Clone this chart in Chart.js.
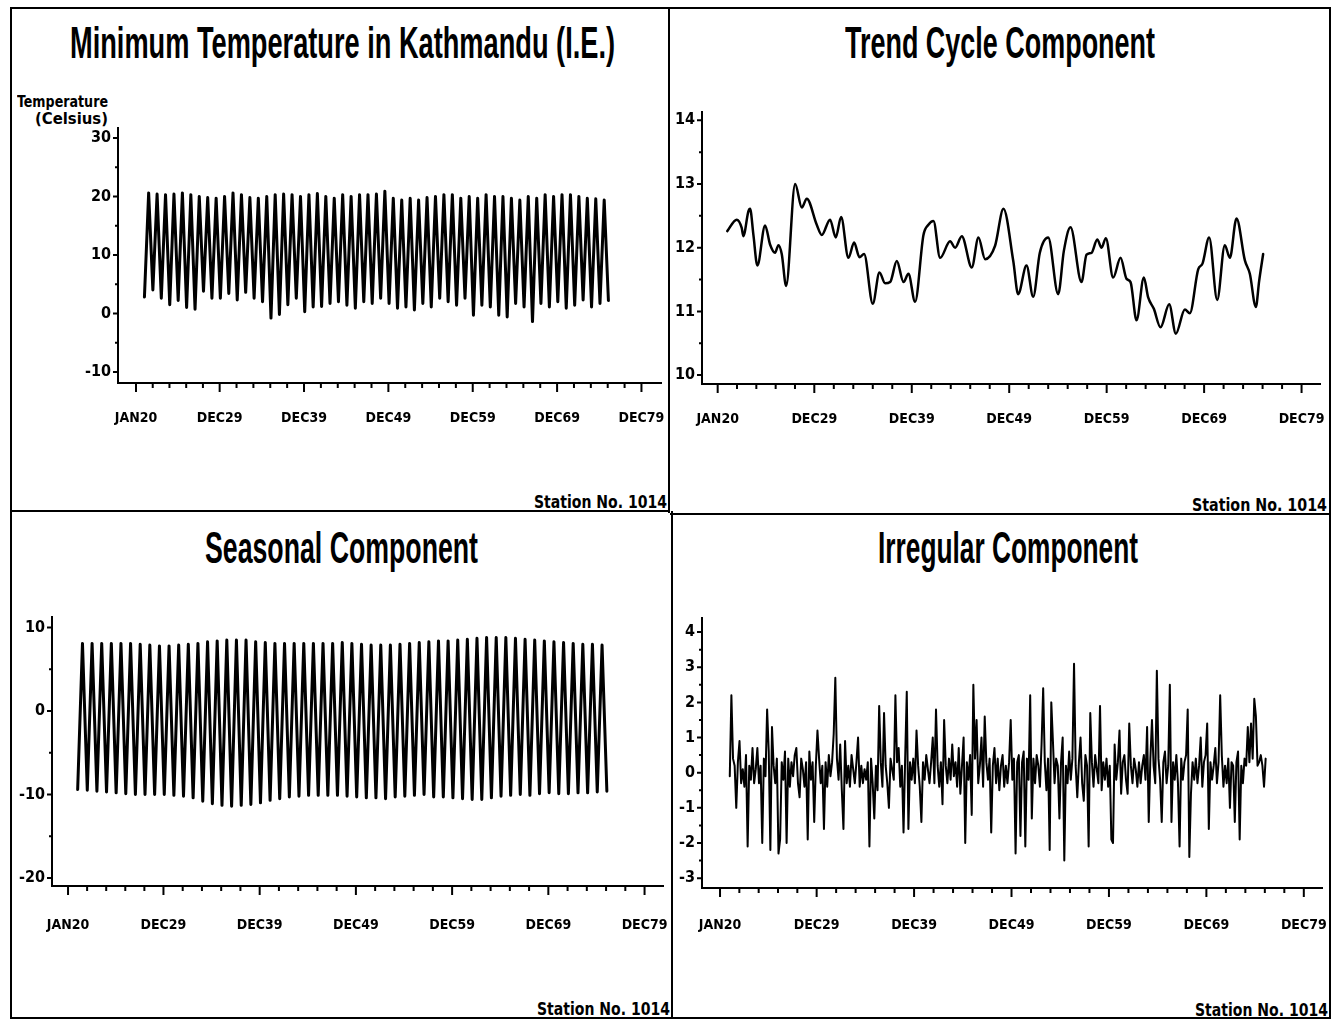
<!DOCTYPE html>
<html><head><meta charset="utf-8">
<script src="https://cdn.jsdelivr.net/npm/chart.js@4.4.0/dist/chart.umd.min.js"></script>
<style>
html,body{margin:0;padding:0;background:#fff;}
#page{position:relative;width:1339px;height:1024px;overflow:hidden;background:#fff;}
.ln{position:absolute;background:#000;}
.txt{position:absolute;white-space:nowrap;color:#000;transform-origin:0 0;}
canvas{position:absolute;}
</style></head><body><div id="page"></div>
<script>
// ---------- categories / tick labels ----------
const xTickMonths = [0, 119, 239, 359, 479, 599, 719];           // months after Jan 1920
const xTickLabels = ['JAN20', 'DEC29', 'DEC39', 'DEC49', 'DEC59', 'DEC69', 'DEC79'];
const tempTicks = [-10, 0, 10, 20, 30];
const trendTicks = [10, 11, 12, 13, 14];
const seasTicks = [-20, -10, 0, 10];
const irrTicks = [-3, -2, -1, 0, 1, 2, 3, 4];

// ---------- series values ----------
// Minimum temperature: January lows 1921..1976 and July highs 1921..1975
const tempLows = [2.8, 4.0, 2.6, 1.5, 2.2, 1.0, 0.7, 3.8, 2.6, 2.6,
  3.4, 2.3, 3.6, 2.6, 2.0, -0.8, -0.2, 1.5, 2.6, 0.3,
  1.1, 1.2, 1.7, 2.0, 1.4, 0.9, 2.0, 1.7, 2.6, 1.7,
  0.9, 1.1, 0.6, 1.7, 1.1, 2.6, 2.0, 1.4, 2.6, -0.3,
  1.4, 1.1, -0.3, -0.6, 1.7, 1.1, -1.4, 1.7, 1.1, 2.0,
  0.9, 1.4, 2.3, 1.1, 1.7, 2.2];
const tempHighs = [20.6, 20.4, 20.3, 20.4, 20.6, 20.3, 20.0, 19.8, 19.7, 20.0,
  20.6, 20.3, 19.8, 19.7, 20.0, 20.3, 20.4, 20.3, 20.0, 20.3,
  20.5, 20.0, 19.7, 20.3, 20.0, 20.3, 20.3, 20.4, 20.9, 19.7,
  19.4, 19.7, 19.4, 19.8, 20.0, 20.3, 20.3, 19.7, 20.0, 19.7,
  20.3, 20.0, 20.0, 19.7, 19.4, 20.0, 19.7, 20.3, 20.0, 20.3,
  20.3, 20.0, 19.7, 19.6, 19.4];

// Seasonal component: January lows 1921..1976 and July highs 1921..1975
const seasLows = [-9.4, -9.5, -9.6, -9.7, -9.8, -9.9, -10.0, -10.0, -10.0, -10.0,
  -10.1, -10.2, -10.4, -10.8, -11.1, -11.3, -11.4, -11.3, -11.2, -11.0,
  -10.7, -10.5, -10.3, -10.2, -10.1, -10.1, -10.1, -10.1, -10.2, -10.3,
  -10.4, -10.4, -10.5, -10.3, -10.2, -10.1, -10.0, -10.3, -10.3, -10.4,
  -10.5, -10.6, -10.6, -10.4, -10.2, -10.1, -10.0, -10.1, -9.9, -9.8,
  -9.9, -9.9, -9.8, -9.8, -9.7, -9.6];
const seasHighs = [8.1, 8.1, 8.1, 8.1, 8.1, 8.1, 8.0, 7.9, 7.8, 7.8,
  7.9, 8.0, 8.1, 8.3, 8.4, 8.5, 8.5, 8.5, 8.3, 8.2,
  8.1, 8.1, 8.1, 8.1, 8.1, 8.1, 8.1, 8.2, 8.1, 8.0,
  7.9, 7.9, 7.9, 8.0, 8.1, 8.2, 8.3, 8.4, 8.4, 8.5,
  8.6, 8.7, 8.8, 8.8, 8.8, 8.7, 8.6, 8.5, 8.4, 8.3,
  8.2, 8.1, 8.0, 8.0, 7.9];

// Trend cycle: turning points (month index, value)
const trendMonths = [11.8, 23.4, 29.6, 31.6, 37.8, 39.9, 44, 48.9, 58.4, 64.5, 70.7, 74.8, 78.9, 84.3, 95.4, 103.6, 109.7, 122, 128.2, 138.4,
  145.4, 152, 161, 168, 174.6, 180.3, 191, 199.2, 206.2, 212.4, 220.6, 228.8, 234.9, 243.1, 253.4, 259.5, 265.7, 273.9, 286.2, 292.4,
  300.6, 312.9, 321.1, 329.3, 341.6, 351.9, 364, 370, 380.3, 388.5, 396.7, 407, 419.3, 426.3, 434.5, 448, 454.2, 460.4, 467.4, 472.7,
  478, 487, 496.1, 503.5, 508.4, 515.8, 524.8, 530.1, 537.1, 545.3, 556, 564.2, 575.3, 581.4, 591.7, 597, 605.2, 615.1, 624.5, 630.7,
  638.9, 649.2, 655.3, 662.7, 666.8, 671.7];
const trendValues = [12.26, 12.44, 12.31, 12.18, 12.57, 12.61, 12.2, 11.72, 12.35, 12.05, 11.92, 12.04, 11.9, 11.4, 13.0, 12.63, 12.77, 12.36, 12.2, 12.44,
  12.16, 12.48, 11.84, 12.08, 11.85, 11.9, 11.12, 11.61, 11.44, 11.46, 11.79, 11.46, 11.59, 11.15, 12.2, 12.36, 12.42, 11.84, 12.1, 12.0,
  12.18, 11.69, 12.16, 11.82, 12.03, 12.61, 11.79, 11.27, 11.72, 11.23, 11.92, 12.16, 11.27, 11.95, 12.32, 11.46, 11.89, 11.92, 12.13, 12.0,
  12.15, 11.53, 11.84, 11.51, 11.46, 10.86, 11.53, 11.22, 11.04, 10.75, 11.11, 10.65, 11.03, 10.97, 11.66, 11.75, 12.16, 11.18, 12.04, 11.84,
  12.46, 11.8, 11.59, 11.07, 11.48, 11.9];

// Irregular component: every second month from Jan 1921 (one row = one year)
const irregularValues = [
  -0.1, 2.2, 0.4, 0.2, -1.0, 0.3,
  0.9, -0.3, 0.1, -0.4, 0.5, -2.1,
  0.2, -0.2, 0.7, -0.3, 0.1, 0.7,
  -0.3, 0.2, -2.0, 0.4, -0.1, 1.8,
  0.6, -2.2, 1.3, 0.2, -0.3, 0.4,
  -2.3, -1.9, 0.3, -0.2, 0.6, -2.0,
  0.4, -0.4, 0.3, -0.1, 0.5, 0.7,
  -0.3, -0.7, 0.4, 0.1, -0.4, 0.3,
  -1.9, 0.6, -0.2, 0.3, -1.4, 0.2,
  1.2, 0.4, -0.3, 0.2, -1.6, 0.3,
  -0.4, 0.5, -0.1, 0.3, 1.1, 2.7,
  0.4, -0.2, 0.8, -0.5, -1.6, 0.9,
  -0.3, 0.2, -0.4, 0.5, 0.1, -0.3,
  0.3, 1.0, -0.4, 0.2, -0.3, 0.1,
  -0.2, 0.3, -2.1, 0.4, -0.3, -1.3,
  0.2, -0.5, 1.9, 0.3, -0.4, 1.7,
  0.2, -0.3, -1.0, 0.4, 0.1, -0.2,
  2.2, 0.3, 0.7, -0.4, 0.2, -1.7,
  0.4, 2.3, -1.6, 0.3, -0.2, 0.4,
  -0.3, 1.2, 0.2, -0.4, -1.4, 0.3,
  -0.2, 0.5, 0.1, -0.3, 0.3, 1.0,
  -0.3, 1.8, 0.2, -0.4, 0.3, -0.9,
  1.5, 0.2, -0.3, 0.4, -0.2, 0.8,
  -0.1, 0.3, -0.4, 0.7, -0.6, 0.2,
  1.0, -2.0, 0.3, -0.2, 0.5, -1.2,
  2.5, 0.4, 1.5, -0.3, 0.2, 1.0,
  -0.4, 1.6, 0.3, -0.2, 0.4, -1.7,
  0.2, 0.7, -0.3, 0.4, -0.5, 0.2,
  0.5, -0.4, 0.2, -0.3, 0.3, 1.5,
  -0.2, 0.4, -2.3, 0.3, 0.5, -1.8,
  0.3, 0.6, -2.1, 0.4, -0.2, 2.2,
  -1.3, 0.4, -0.3, 0.5, 0.2, -0.4,
  0.8, 2.4, 0.3, -0.5, 0.4, -2.2,
  2.0, 0.9, -0.3, 0.4, 0.2, -1.3,
  0.3, 1.0, -2.5, 0.2, -0.3, 0.6,
  -0.2, 0.4, 3.1, 0.2, -0.7, 0.3,
  1.0, -0.3, -0.8, 0.5, 0.2, -2.1,
  1.7, 0.3, -0.4, 0.5, 0.1, -0.3,
  1.9, -0.5, 0.3, -0.2, 0.4, -0.4,
  0.2, -1.9, -2.0, 0.8, -0.2, 0.3,
  1.2, -0.6, 0.3, 0.5, -0.2, -0.6,
  1.4, 0.2, -0.3, 0.4, 0.1, -0.4,
  0.3, -0.3, 0.2, 0.5, -0.2, 1.3,
  -1.4, 0.4, 1.5, 0.2, -0.3, 2.9,
  0.4, -0.2, -1.4, 0.3, 0.6, -0.3,
  0.2, 2.5, -1.4, 0.3, -0.2, 0.5,
  -0.3, -2.1, 0.4, -0.2, 0.3, 0.5,
  1.8, -2.4, -0.6, 0.3, -0.2, 0.4,
  -0.3, 0.2, 1.0, -0.4, 0.3, 0.5,
  1.4, -1.6, 0.3, -0.2, 0.2, 0.7,
  -0.3, 0.3, 2.2, 0.5, -0.4, 0.2,
  -0.3, 0.4, -1.0, 0.3, 0.2, -1.4,
  0.3, 0.6, -1.9, 0.2, -0.3, 0.4,
  0.2, 1.3, 0.3, 1.4, 0.4, 2.1,
  1.6, 0.2, 0.3, 0.5, 0.2, -0.4,
  0.4];

// ---------- build point lists ----------
function cycleSeries(lows, highs) {
  const pts = [];
  for (let i = 0; i < lows.length; i++) {
    pts.push({ x: 12 + 12 * i, y: lows[i] });          // January
    if (i < highs.length) pts.push({ x: 18 + 12 * i, y: highs[i] }); // July
  }
  return pts;
}
const tempPoints = cycleSeries(tempLows, tempHighs);
const seasPoints = cycleSeries(seasLows, seasHighs);
const trendPoints = trendMonths.map((m, i) => ({ x: m, y: trendValues[i] }));
const irrPoints = irregularValues.map((v, k) => ({ x: 12 + 2 * k, y: v }));

// ---------- page furniture ----------
const page = document.getElementById('page');
const FONT = "'Liberation Sans Narrow','DejaVu Sans Condensed','Liberation Sans',sans-serif";
const TITLE_FONT = "'Liberation Sans',Arial,sans-serif";

function ln(x, y, w, h) {
  const d = document.createElement('div'); d.className = 'ln';
  d.style.left = x + 'px'; d.style.top = y + 'px'; d.style.width = w + 'px'; d.style.height = h + 'px';
  page.appendChild(d);
}
ln(11, 7, 1320, 2);      // top
ln(11, 1017, 1320, 2);   // bottom
ln(10, 7, 2, 1012);      // left
ln(1329, 7, 2, 1012);    // right
ln(668, 7, 2, 506);      // divider upper
ln(671, 511, 2, 507);    // divider lower
ln(11, 510, 659, 2);     // horizontal left
ln(670, 513, 660, 2);    // horizontal right

function addText(str, o) {
  const d = document.createElement('div'); d.className = 'txt';
  d.style.font = (o.weight || 'bold') + ' ' + o.size + 'px ' + (o.family || FONT);
  d.style.lineHeight = 'normal';
  d.appendChild(document.createTextNode(str));
  const m = document.createElement('span');
  m.style.display = 'inline-block'; m.style.width = '0px'; m.style.height = '0px'; m.style.verticalAlign = 'baseline';
  d.appendChild(m);
  page.appendChild(d);
  const w = d.getBoundingClientRect().width;
  const sx = o.w ? o.w / w : 1;
  const tw = w * sx;
  const left = o.align === 'center' ? o.x - tw / 2 : (o.align === 'right' ? o.x - tw : o.x);
  d.style.left = left + 'px';
  d.style.top = (o.base - m.offsetTop) + 'px';
  d.style.transform = 'scaleX(' + sx + ')';
}

addText('Minimum Temperature in Kathmandu (I.E.)', { size: 45, family: TITLE_FONT, x: 342, align: 'center', base: 58, w: 545 });
addText('Trend Cycle Component', { size: 45, family: TITLE_FONT, x: 1000, align: 'center', base: 58, w: 310 });
addText('Seasonal Component', { size: 45, family: TITLE_FONT, x: 341, align: 'center', base: 563, w: 273 });
addText('Irregular Component', { size: 45, family: TITLE_FONT, x: 1008, align: 'center', base: 563, w: 260 });
addText('Temperature', { size: 15, x: 108, align: 'right', base: 107, w: 91 });
addText('(Celsius)', { size: 15, x: 108, align: 'right', base: 124, w: 73 });
addText('Station No. 1014', { size: 17, x: 667, align: 'right', base: 508, w: 133 });
addText('Station No. 1014', { size: 17, x: 1327, align: 'right', base: 511, w: 135 });
addText('Station No. 1014', { size: 17, x: 670, align: 'right', base: 1015, w: 133 });
addText('Station No. 1014', { size: 17, x: 1328, align: 'right', base: 1016, w: 133 });

// ---------- tick-mark plugin (uses the chart's own scales) ----------
const tickMarks = {
  id: 'tickMarks',
  afterDraw(chart, args, opts) {
    const ctx = chart.ctx, xs = chart.scales.x, ys = chart.scales.y;
    const yb = chart.chartArea.bottom, xl = chart.chartArea.left;
    ctx.save(); ctx.strokeStyle = '#000'; ctx.lineWidth = 2; ctx.beginPath();
    xTickMonths.forEach((m, i) => {
      const px = xs.getPixelForValue(m);
      ctx.moveTo(px, yb); ctx.lineTo(px, yb + 9);
      if (i < xTickMonths.length - 1) {
        for (let j = 1; j < 5; j++) {
          const p = xs.getPixelForValue(m + (xTickMonths[i + 1] - m) * j / 5);
          ctx.moveTo(p, yb); ctx.lineTo(p, yb + 5);
        }
      }
    });
    opts.yMajor.forEach(v => { const p = ys.getPixelForValue(v); ctx.moveTo(xl, p); ctx.lineTo(xl - 5, p); });
    opts.yMinor.forEach(v => { const p = ys.getPixelForValue(v); ctx.moveTo(xl, p); ctx.lineTo(xl - 3, p); });
    ctx.stroke(); ctx.restore();
  }
};

function makeChart(p) {
  const YW = 60, XH = 60, PT = 34, PR = 70;
  const c = document.createElement('canvas');
  const W = p.r - p.l + YW + PR, H = p.b - p.t + PT + XH;
  c.width = W; c.height = H;
  c.style.left = (p.l - YW) + 'px'; c.style.top = (p.t - PT) + 'px';
  c.style.width = W + 'px'; c.style.height = H + 'px';
  page.appendChild(c);
  const yMinor = [];
  for (let i = 0; i < p.yTicks.length - 1; i++) yMinor.push((p.yTicks[i] + p.yTicks[i + 1]) / 2);
  return new Chart(c, {
    type: 'line',
    data: { datasets: [{
      data: p.points, borderColor: '#000', borderWidth: p.lw, pointRadius: 0, fill: false,
      tension: p.smooth ? 0.4 : 0, cubicInterpolationMode: p.smooth ? 'monotone' : 'default',
      borderJoinStyle: 'round', borderCapStyle: 'round'
    }] },
    options: {
      responsive: false, animation: false, devicePixelRatio: 1, events: [],
      layout: { padding: { left: 0, top: PT, right: PR, bottom: 0 } },
      plugins: { legend: { display: false }, tooltip: { enabled: false }, title: { display: false },
        tickMarks: { yMajor: p.yTicks, yMinor: yMinor } },
      scales: {
        x: {
          type: 'linear', min: p.xMin, max: p.xMax,
          grid: { display: false, drawTicks: false, tickLength: 0 },
          border: { display: true, color: '#000', width: 2 },
          afterBuildTicks: s => { s.ticks = xTickMonths.map(v => ({ value: v })); },
          afterFit: s => { s.height = XH; },
          ticks: { autoSkip: false, maxRotation: 0, minRotation: 0, padding: p.xPad, color: '#000',
            font: { family: FONT, size: 14, weight: 'bold' },
            callback: (v, i) => xTickLabels[i] }
        },
        y: {
          type: 'linear', min: p.yMin, max: p.yMax,
          grid: { display: false, drawTicks: false, tickLength: 0 },
          border: { display: true, color: '#000', width: 2 },
          afterBuildTicks: s => { s.ticks = p.yTicks.map(v => ({ value: v })); },
          afterFit: s => { s.width = YW; },
          ticks: { padding: 7, color: '#000', font: { family: FONT, size: 16, weight: 'bold' }, callback: v => String(v) }
        }
      }
    },
    plugins: [tickMarks]
  });
}

makeChart({ l: 118, t: 128, r: 661, b: 383, xMin: -25.6, xMax: 746.8, yMin: -11.9, yMax: 31.7,
  yTicks: tempTicks, points: tempPoints, lw: 3, smooth: false, xPad: 27 });
makeChart({ l: 702, t: 112, r: 1320, b: 384, xMin: -19.3, xMax: 741.7, yMin: 9.86, yMax: 14.13,
  yTicks: trendTicks, points: trendPoints, lw: 2.5, smooth: true, xPad: 27 });
makeChart({ l: 52, t: 617, r: 663, b: 886, xMin: -20, xMax: 742, yMin: -20.96, yMax: 11.26,
  yTicks: seasTicks, points: seasPoints, lw: 3, smooth: false, xPad: 31 });
makeChart({ l: 702, t: 618, r: 1322, b: 888, xMin: -22.2, xMax: 741.4, yMin: -3.28, yMax: 4.4,
  yTicks: irrTicks, points: irrPoints, lw: 2, smooth: false, xPad: 29 });
</script>
</body></html>
